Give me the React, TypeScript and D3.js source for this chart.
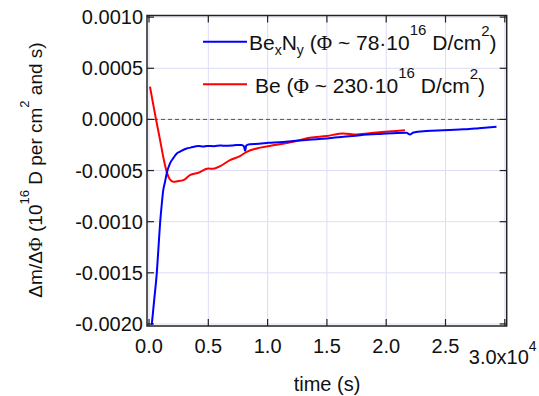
import { useRef, useEffect } from 'react';
import * as d3 from 'd3';

// time in units of 1e4 s, values in 1e16 D per cm^2 and s
const bexnyT = [0.023, 0.045, 0.065, 0.08, 0.093, 0.107, 0.12, 0.135, 0.149, 0.177, 0.205, 0.234, 0.261, 0.318, 0.35, 0.416, 0.46, 0.487, 0.55, 0.6, 0.627, 0.7, 0.74, 0.78, 0.8, 0.81, 0.82, 0.85, 0.93, 1.006, 1.1, 1.217, 1.35, 1.498, 1.64, 1.78, 1.95, 2.17, 2.2, 2.23, 2.34, 2.48, 2.62, 2.7, 2.78, 2.93];
const bexnyV = [-0.00201, -0.00175, -0.00151, -0.00125, -0.00102, -0.000835, -0.000692, -0.00061, -0.000528, -0.00043, -0.000378, -0.000333, -0.000315, -0.000284, -0.000276, -0.000261, -0.000266, -0.000259, -0.000262, -0.000254, -0.000258, -0.000255, -0.000249, -0.000251, -0.000262, -0.000307, -0.000255, -0.000242, -0.000238, -0.000229, -0.000224, -0.000212, -0.000199, -0.000186, -0.00017, -0.000154, -0.000142, -0.000131, -0.000147, -0.000128, -0.000114, -0.000106, -0.000098, -0.000094, -0.000086, -0.000072];

const beT = [0.008, 0.035, 0.059, 0.093, 0.12, 0.149, 0.175, 0.205, 0.24, 0.29, 0.345, 0.416, 0.5, 0.54, 0.6, 0.683, 0.767, 0.824, 0.908, 1.015, 1.217, 1.357, 1.498, 1.638, 1.75, 1.92, 2.158];
const beV = [0.00032, 0.00015, 0, -0.0002, -0.000366, -0.000513, -0.000585, -0.00061, -0.000605, -0.000594, -0.000545, -0.000522, -0.00048, -0.000483, -0.000457, -0.000398, -0.000359, -0.000317, -0.000284, -0.000261, -0.000219, -0.00018, -0.000163, -0.000137, -0.000147, -0.000127, -0.000105];

const xTicks = [0, 0.5, 1, 1.5, 2, 2.5, 3];
const yTicks = [0.001, 0.0005, 0, -0.0005, -0.001, -0.0015, -0.002];

const FONT = '"Liberation Sans", Arial, sans-serif';
const SERIF = '"Liberation Serif", "DejaVu Serif", serif';

export default function App() {
    const ref = useRef<SVGSVGElement>(null);

    useEffect(() => {
        if (!ref.current) return;
        d3.select(ref.current).selectAll('*').remove();

        const left = 147, right = 506.7, top = 15.5, bottom = 326;
        const svg = d3.select(ref.current).attr('font-family', FONT);

        const x = d3.scaleLinear().domain([-0.017, 3.016]).range([left, right]);
        const y = d3.scaleLinear().domain([-0.00202, 0.001016]).range([bottom, top]);

        // grid
        svg.append('g').selectAll('line').data(xTicks).enter().append('line')
            .attr('x1', d => x(d)).attr('x2', d => x(d)).attr('y1', top).attr('y2', bottom)
            .attr('stroke', '#dcdcf8').attr('stroke-width', 1);
        svg.append('g').selectAll('line').data(yTicks).enter().append('line')
            .attr('x1', left).attr('x2', right).attr('y1', d => y(d)).attr('y2', d => y(d))
            .attr('stroke', '#dcdcf8').attr('stroke-width', 1);

        // zero line
        svg.append('line')
            .attr('x1', left).attr('x2', right).attr('y1', y(0)).attr('y2', y(0))
            .attr('stroke', '#555').attr('stroke-width', 1).attr('stroke-dasharray', '4,3');

        svg.append('clipPath').attr('id', 'plot-clip').append('rect')
            .attr('x', left).attr('y', top).attr('width', right - left).attr('height', bottom - top);

        const line = d3.line<[number, number]>().x(d => x(d[0])).y(d => y(d[1])).curve(d3.curveMonotoneX);
        const series = [
            { t: beT, v: beV, color: '#ff0000' },
            { t: bexnyT, v: bexnyV, color: '#0000ff' },
        ];
        series.forEach(s => {
            svg.append('path')
                .datum(s.t.map((t, i) => [t, s.v[i]] as [number, number]))
                .attr('fill', 'none').attr('stroke', s.color).attr('stroke-width', 2)
                .attr('stroke-linejoin', 'round')
                .attr('clip-path', 'url(#plot-clip)')
                .attr('d', line);
        });

        // frame
        svg.append('rect').attr('x', left).attr('y', top).attr('width', right - left).attr('height', bottom - top)
            .attr('fill', 'none').attr('stroke', '#222').attr('stroke-width', 1.5);

        // ticks (inward, mirrored)
        const tl = 7;
        xTicks.forEach(d => {
            svg.append('line').attr('x1', x(d)).attr('x2', x(d)).attr('y1', bottom).attr('y2', bottom - tl).attr('stroke', '#222').attr('stroke-width', 1.2);
            svg.append('line').attr('x1', x(d)).attr('x2', x(d)).attr('y1', top).attr('y2', top + tl).attr('stroke', '#222').attr('stroke-width', 1.2);
        });
        yTicks.forEach(d => {
            svg.append('line').attr('x1', left).attr('x2', left + tl).attr('y1', y(d)).attr('y2', y(d)).attr('stroke', '#222').attr('stroke-width', 1.2);
            svg.append('line').attr('x1', right).attr('x2', right - tl).attr('y1', y(d)).attr('y2', y(d)).attr('stroke', '#222').attr('stroke-width', 1.2);
        });

        // tick labels
        svg.append('g').selectAll('text').data(yTicks).enter().append('text')
            .attr('x', left - 4).attr('y', d => y(d) + 7).attr('text-anchor', 'end')
            .attr('font-size', 20).attr('fill', '#111')
            .text(d => d3.format('.4f')(d).replace('−', '-'));
        svg.append('g').selectAll('text').data(xTicks.slice(0, -1)).enter().append('text')
            .attr('x', d => x(d)).attr('y', 353).attr('text-anchor', 'middle')
            .attr('font-size', 20).attr('fill', '#111')
            .text(d => d3.format('.1f')(d));
        const last = svg.append('text').attr('x', x(3) - 36).attr('y', 364)
            .attr('font-size', 20).attr('fill', '#111');
        last.append('tspan').text('3.0x10');
        last.append('tspan').attr('font-size', 14).attr('dy', -13).text('4');

        // axis titles
        svg.append('text').attr('x', 327).attr('y', 391).attr('text-anchor', 'middle')
            .attr('font-size', 20).attr('fill', '#111').text('time (s)');

        const yl = svg.append('text').attr('transform', 'translate(42,170) rotate(-90)')
            .attr('text-anchor', 'middle').attr('font-size', 19).attr('fill', '#111');
        yl.append('tspan').text('Δm/Δ');
        yl.append('tspan').attr('font-family', SERIF).text('Φ');
        yl.append('tspan').text(' (10');
        yl.append('tspan').attr('font-size', 13).attr('dy', -13).text('16');
        yl.append('tspan').attr('dy', 13).text(' D per cm');
        yl.append('tspan').attr('font-size', 13).attr('dy', -13).text('2');
        yl.append('tspan').attr('dy', 13).text('  and s)');

        // legend
        const leg = [
            { color: '#0000ff', y: 41.7, base: 50 },
            { color: '#ff0000', y: 84.3, base: 93 },
        ];
        leg.forEach(l => {
            svg.append('line').attr('x1', 203).attr('x2', 247).attr('y1', l.y).attr('y2', l.y)
                .attr('stroke', l.color).attr('stroke-width', 2);
        });
        const t1 = svg.append('text').attr('x', 249).attr('y', leg[0].base).attr('font-size', 21).attr('fill', '#111');
        t1.append('tspan').text('Be');
        t1.append('tspan').attr('font-size', 14).attr('dy', 5).text('x');
        t1.append('tspan').attr('dy', -5).text('N');
        t1.append('tspan').attr('font-size', 14).attr('dy', 5).text('y');
        t1.append('tspan').attr('dy', -5).text(' (');
        t1.append('tspan').attr('font-family', SERIF).text('Φ');
        t1.append('tspan').text(' ~ 78·10');
        t1.append('tspan').attr('font-size', 15).attr('dy', -15).text('16');
        t1.append('tspan').attr('dy', 15).text(' D/cm');
        t1.append('tspan').attr('font-size', 15).attr('dy', -14).text('2');
        t1.append('tspan').attr('dy', 14).text(')');

        const t2 = svg.append('text').attr('x', 255).attr('y', leg[1].base).attr('font-size', 21).attr('fill', '#111');
        t2.append('tspan').text('Be (');
        t2.append('tspan').attr('font-family', SERIF).text('Φ');
        t2.append('tspan').text(' ~ 230·10');
        t2.append('tspan').attr('font-size', 15).attr('dy', -15).text('16');
        t2.append('tspan').attr('dy', 15).text(' D/cm');
        t2.append('tspan').attr('font-size', 15).attr('dy', -14).text('2');
        t2.append('tspan').attr('dy', 14).text(')');
    }, []);

    return <svg ref={ref} width={539} height={396} style={{ position: 'absolute', left: 0, top: 0, background: '#fff' }} />;
}
